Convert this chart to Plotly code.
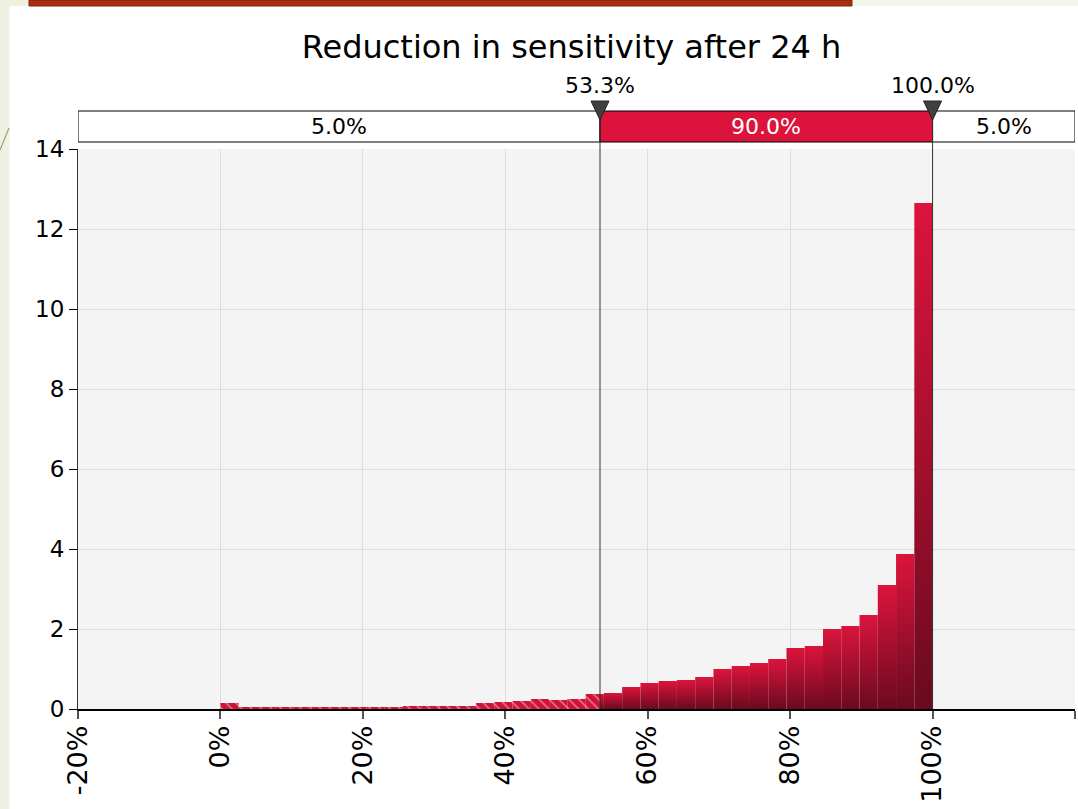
import plotly.graph_objects as go

# ---------------- data ----------------
title_text = "Reduction in sensitivity after 24 h"
bin_start = 0.0      # % (left edge of first histogram bin)
bin_end = 100.0      # % (right edge of last histogram bin)
bin_heights = [0.15, 0.05, 0.05, 0.05, 0.05, 0.05, 0.05, 0.05, 0.05, 0.05,
               0.075, 0.075, 0.075, 0.075, 0.15, 0.175, 0.2, 0.25, 0.225, 0.25,
               0.375, 0.4, 0.55, 0.65, 0.7, 0.725, 0.8, 1.0, 1.075, 1.15,
               1.25, 1.525, 1.575, 2.0, 2.075, 2.35, 3.1, 3.875, 12.65]
pct_low = 53.3
pct_high = 100.0
band_labels = ["5.0%", "90.0%", "5.0%"]
x_tick_vals = [-20, 0, 20, 40, 60, 80, 100, 120]
x_tick_text = ["-20%", "0%", "20%", "40%", "60%", "80%", "100%", "120%"]
y_tick_vals = [0, 2, 4, 6, 8, 10, 12, 14]

# ---------------- style ----------------
W, H = 1078, 809
ML, MR, MT, MB = 78, 3, 149, 100
PW, PH = W - ML - MR, H - MT - MB
XMIN, XMAX = -20, 120
CRIMSON = "#DC143C"
DARK = "#6A0A1E"
FONT = "DejaVu Sans"


def px(xp):
    return (xp - ML) / PW


def py(yp):
    return (H - MB - yp) / PH


fig = go.Figure()

n = len(bin_heights)
bw = (bin_end - bin_start) / n

hx, hy, hw = [], [], []
for i, h in enumerate(bin_heights):
    left = bin_start + i * bw
    right = left + bw
    # hatched part (below lower percentile)
    if left < pct_low:
        r = min(right, pct_low)
        hx.append((left + r) / 2)
        hw.append(r - left)
        hy.append(h)
    # solid gradient part
    if right > pct_low:
        l = max(left, pct_low)
        fig.add_trace(go.Scatter(
            x=[l, l, right, right, l], y=[0, h, h, 0, 0],
            mode="lines", line=dict(width=0), fill="toself",
            fillgradient=dict(type="vertical",
                              colorscale=[[0, DARK], [1, CRIMSON]],
                              start=0, stop=h),
            hoverinfo="skip", showlegend=False))

fig.add_trace(go.Bar(
    x=hx, y=hy, width=hw,
    marker=dict(color="#CF1238", line=dict(width=0),
                pattern=dict(shape="\\", fgcolor="#EE9AAE", fgopacity=0.85,
                             size=7, solidity=0.2, fillmode="overlay")),
    hoverinfo="skip", showlegend=False))

shapes = []
# page decorations
shapes.append(dict(type="rect", xref="paper", yref="paper",
                   x0=px(0), x1=px(9.5), y0=py(H), y1=py(0),
                   fillcolor="#EEF1E1", line=dict(width=0), layer="below"))
shapes.append(dict(type="rect", xref="paper", yref="paper",
                   x0=px(0), x1=px(29), y0=py(6), y1=py(0),
                   fillcolor="#EEF1E1", line=dict(width=0), layer="below"))
shapes.append(dict(type="rect", xref="paper", yref="paper",
                   x0=px(853), x1=px(W), y0=py(6), y1=py(0),
                   fillcolor="#F4F6EC", line=dict(width=0), layer="below"))
shapes.append(dict(type="rect", xref="paper", yref="paper",
                   x0=px(29), x1=px(852), y0=py(6), y1=py(0),
                   fillcolor="#A62F10", line=dict(color="#7E2410", width=1)))
shapes.append(dict(type="line", xref="paper", yref="paper",
                   x0=px(0), x1=px(9), y0=py(150), y1=py(128),
                   line=dict(color="#8E8A63", width=1)))

# header band
band_top, band_bot = py(111), py(142)
segs = [(XMIN, pct_low, "white"), (pct_low, pct_high, CRIMSON), (pct_high, XMAX, "white")]
for x0, x1, c in segs:
    shapes.append(dict(type="rect", xref="x", yref="paper", x0=x0, x1=x1,
                       y0=band_bot, y1=band_top, fillcolor=c,
                       line=dict(color="black", width=1)))

# percentile lines
for v in (pct_low, pct_high):
    shapes.append(dict(type="line", xref="x", yref="paper", x0=v, x1=v,
                       y0=0, y1=band_top, line=dict(color="#333333", width=1)))

# triangles
half = 9 * (XMAX - XMIN) / PW
for v in (pct_low, pct_high):
    shapes.append(dict(type="path", xref="x", yref="paper",
                       path=f"M {v - half},{py(101)} L {v + half},{py(101)} L {v},{py(120)} Z",
                       fillcolor="#404040", line=dict(color="#222222", width=1)))

annotations = []
band_mid = (band_top + band_bot) / 2
centers = [(XMIN + pct_low) / 2, (pct_low + pct_high) / 2, (pct_high + XMAX) / 2]
colors = ["black", "white", "black"]
for c, t, col in zip(centers, band_labels, colors):
    annotations.append(dict(x=c, y=band_mid, xref="x", yref="paper", text=t,
                            showarrow=False, font=dict(family=FONT, size=22, color=col),
                            xanchor="center", yanchor="middle"))
for v in (pct_low, pct_high):
    annotations.append(dict(x=v, y=py(86), xref="x", yref="paper", text=f"{v:.1f}%",
                            showarrow=False, font=dict(family=FONT, size=22, color="black"),
                            xanchor="center", yanchor="middle"))

fig.update_layout(
    width=W, height=H, autosize=False,
    margin=dict(l=ML, r=MR, t=MT, b=MB, pad=0),
    paper_bgcolor="white", plot_bgcolor="#F4F4F4",
    barmode="overlay",
    showlegend=False,
    title=dict(text=title_text, x=571.5 / W, y=1 - 47 / H, xref="container",
               yref="container", xanchor="center", yanchor="middle",
               font=dict(family=FONT, size=32, color="black")),
    shapes=shapes, annotations=annotations,
    xaxis=dict(range=[XMIN, XMAX], tickvals=x_tick_vals, ticktext=x_tick_text,
               tickangle=-90, ticks="outside", ticklen=8, tickwidth=2,
               tickcolor="#555555", showgrid=True, gridcolor="#DDDDDD",
               gridwidth=1, zeroline=False, showline=True, linecolor="black",
               linewidth=1.5, ticklabelstandoff=-4,
               tickfont=dict(family=FONT, size=27, color="black")),
    yaxis=dict(range=[0, 14], tickvals=y_tick_vals, ticks="outside", ticklen=8,
               tickcolor="black", tickwidth=1, showgrid=True, gridcolor="#DDDDDD",
               gridwidth=1, zeroline=False, showline=True, linecolor="#333333",
               linewidth=1, tickfont=dict(family=FONT, size=23, color="black")),
)

fig.write_html("out.html", config={"displayModeBar": False},
               post_script="document.body.style.margin='0px';")
